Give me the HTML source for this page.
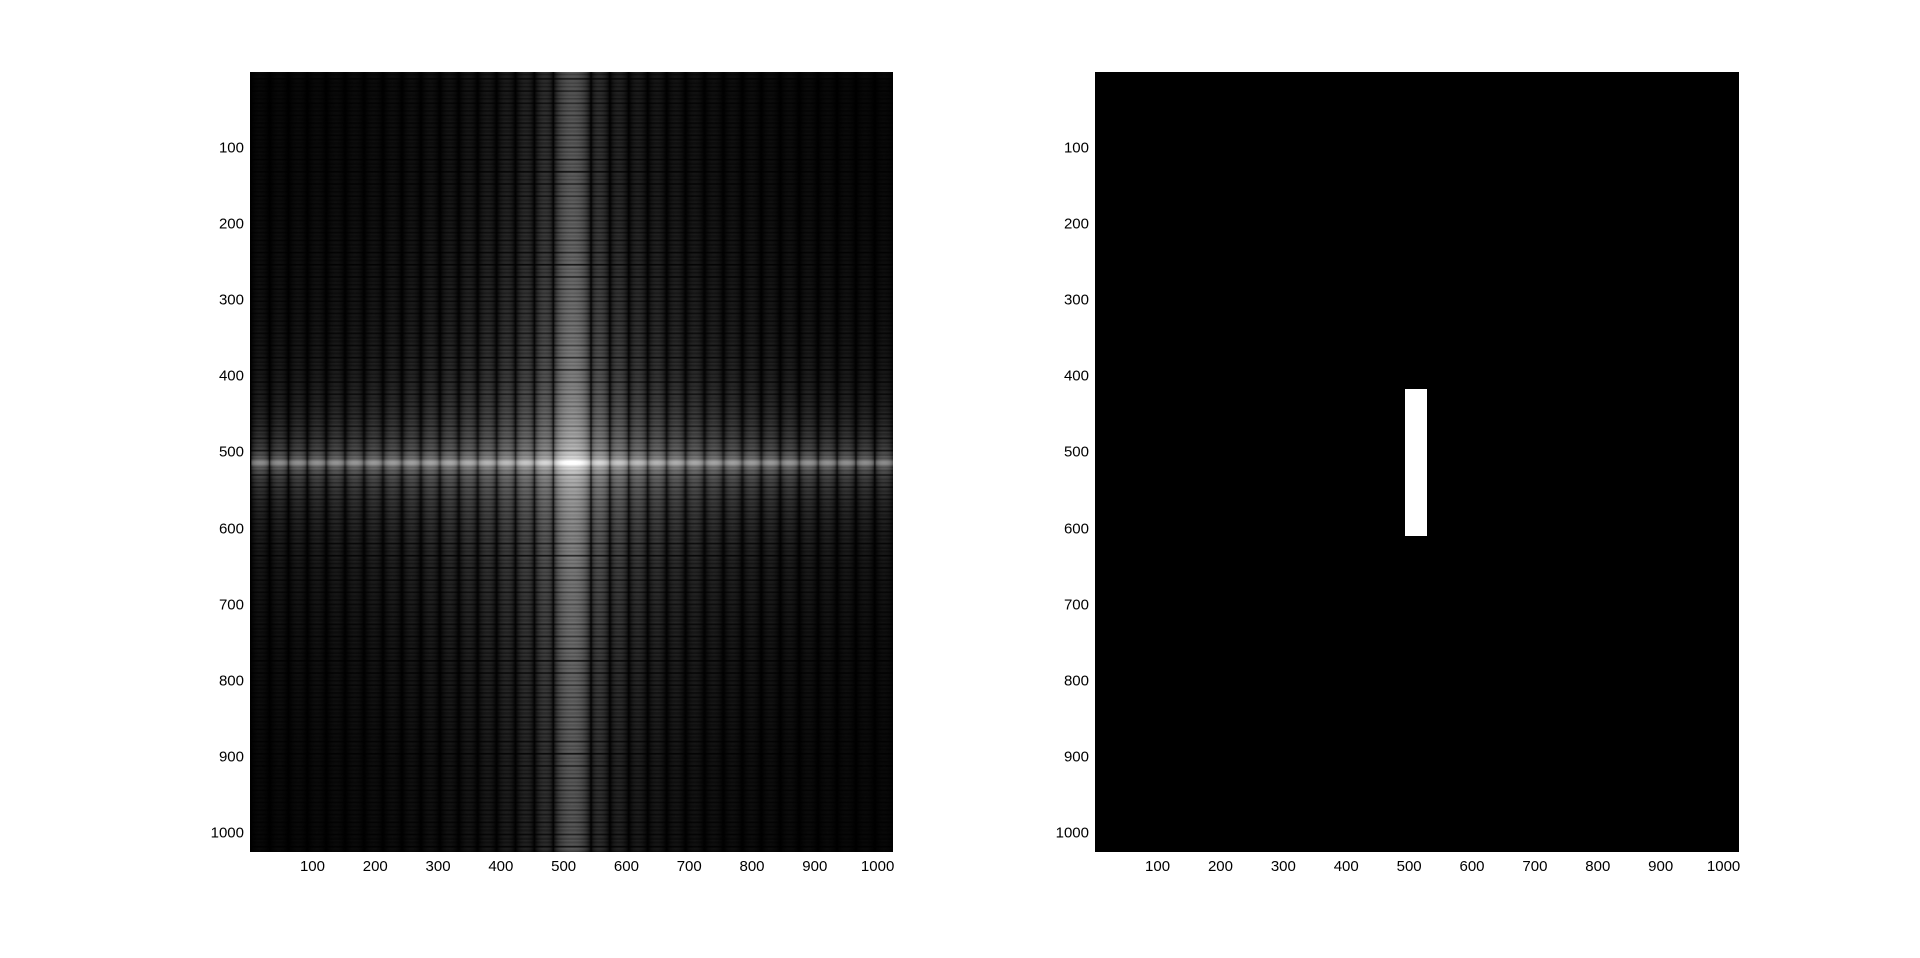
<!DOCTYPE html>
<html><head><meta charset="utf-8"><style>
html,body{margin:0;padding:0;background:#fff;width:1920px;height:958px;overflow:hidden}
.ax{position:absolute;background:#000}
canvas{position:absolute;width:643px;height:780px}
.lbl{position:absolute;font-family:"Liberation Sans",sans-serif;font-size:15px;color:#000;white-space:nowrap}
</style></head><body>
<div class="ax" id="axL" style="left:250px;top:72px;width:643px;height:780px"><canvas id="cv" width="512" height="512" style="left:0;top:0"></canvas></div>
<div class="ax" id="axR" style="left:1095px;top:72px;width:644px;height:780px"></div>
<script>
const N = 1024;
const rectX = [494, 528];
const rectY = [417, 610];
const ticks = [100,200,300,400,500,600,700,800,900,1000];
const axes = [{el:document.getElementById('axL'),x:250,w:643,n:'left'},{el:document.getElementById('axR'),x:1095,w:644,n:'right'}];
const top0 = 72, H = 780;
function sx(a,v){return (v-0.5)/N*a.w;}
function sy(v){return (v-0.5)/N*H;}
{
  const a = axes[1];
  const r = document.createElement('div');
  
  
  r.style.cssText = 'position:absolute;background:#fff;left:'+sx(a,rectX[0])+'px;top:'+sy(rectY[0])+'px;width:'+(sx(a,rectX[1])-sx(a,rectX[0]))+'px;height:'+(sy(rectY[1])-sy(rectY[0]))+'px';
  a.el.appendChild(r);
}
{
  const W = rectX[1]-rectX[0], Hh = rectY[1]-rectY[0];
  const cv = document.getElementById('cv'), ctx = cv.getContext('2d');
  const R = cv.width, img = ctx.createImageData(R,R);
  const sinc = u => u===0?1:Math.abs(Math.sin(Math.PI*u)/(Math.PI*u));
  const mx = Math.log(1+W*Hh);
  const fx = [], fy = [];
  for(let i=0;i<R;i++){const d=(i+0.5)*N/R-N/2-1; fx.push(sinc(W*d/N)); fy.push(sinc(Hh*d/N));}
  for(let j=0;j<R;j++)for(let i=0;i<R;i++){
    const F = W*Hh*fx[i]*fy[j];
    let g = Math.log(1+F)/mx; g = Math.pow(g,1.05)*265;
    const k=(j*R+i)*4; img.data[k]=img.data[k+1]=img.data[k+2]=Math.min(255,g); img.data[k+3]=255;
  }
  ctx.putImageData(img,0,0);
}
for(const a of axes){
  for(const t of ticks){
    const xl = document.createElement('div');
    
    
    xl.className='lbl'; xl.textContent=t;
    xl.style.left=(a.x+sx(a,t))+'px'; xl.style.top=(top0+H+6)+'px'; xl.style.transform='translateX(-50%)';
    document.body.appendChild(xl);
    const yl = document.createElement('div');
    
    
    yl.className='lbl'; yl.textContent=t;
    yl.style.right=(1920-a.x+6)+'px'; yl.style.top=(top0+sy(t))+'px'; yl.style.transform='translateY(-50%)';
    document.body.appendChild(yl);
  }
}
</script>
</body></html>
